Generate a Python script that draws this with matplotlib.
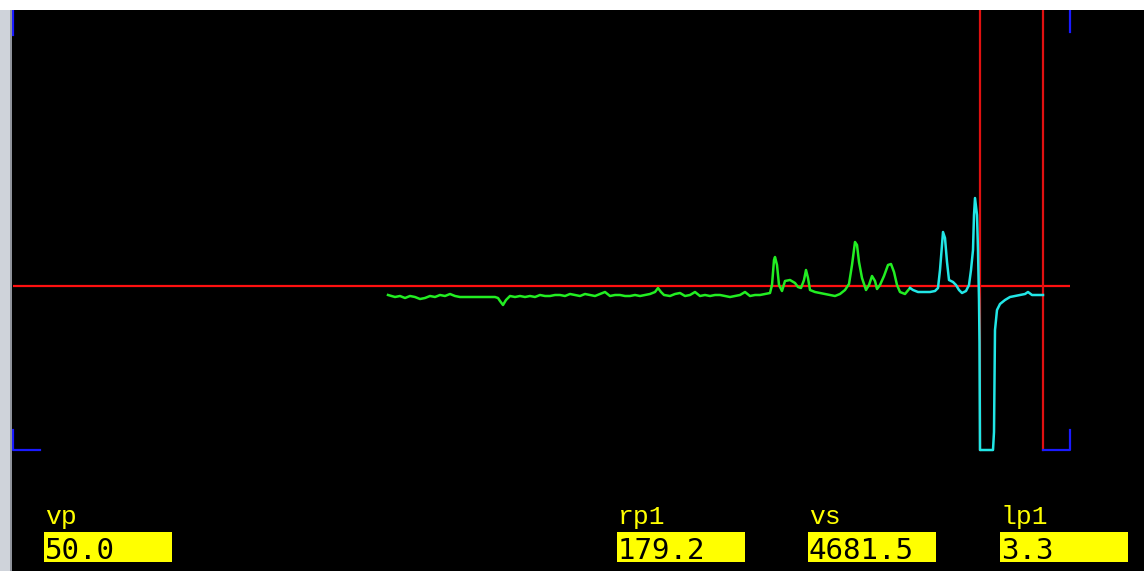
import numpy as np
import matplotlib
matplotlib.use("Agg")
import matplotlib.pyplot as plt
from matplotlib.patches import Rectangle

# trace samples (x = sample index, y = amplitude relative to reference level)
green_x = [375, 382, 387, 392, 397, 402, 407, 412, 417, 422, 427, 432, 437, 442, 447,
           457, 472, 482, 485, 487, 490, 493, 497, 502, 507, 512, 517, 522, 527, 532,
           537, 542, 547, 552, 557, 562, 567, 572, 577, 582, 587, 592, 597, 602, 607,
           612, 617, 622, 627, 632, 637, 642, 645, 648, 651, 657, 662, 667, 672, 677,
           682, 687, 692, 697, 702, 707, 712, 717, 722, 727, 732, 737, 742, 747, 752,
           757, 759, 761, 762, 764, 766, 769, 772, 777, 782, 785, 788, 791, 793, 795,
           797, 802, 807, 812, 817, 822, 827, 832, 836, 839, 842, 844, 846, 849, 853,
           856, 859, 862, 864, 867, 871, 875, 878, 881, 884, 887, 892, 897]
green_y = [-9, -11, -10, -12, -10, -11, -13, -12, -10, -11, -9, -10, -8, -10, -11,
           -11, -11, -11, -12, -15, -19, -14, -10, -11, -10, -11, -10, -11, -9, -10,
           -10, -9, -9, -10, -8, -9, -10, -8, -9, -10, -8, -6, -10, -9, -9,
           -10, -10, -9, -10, -9, -8, -6, -2, -6, -9, -10, -8, -7, -10, -9,
           -6, -10, -9, -10, -9, -9, -10, -11, -10, -9, -6, -10, -9, -9, -8,
           -7, 1, 26, 29, 21, 1, -5, 5, 6, 3, -1, -2, 6, 16, 8,
           -4, -6, -7, -8, -9, -10, -8, -4, 2, 21, 44, 41, 24, 8, -4,
           1, 10, 5, -3, 1, 10, 21, 22, 14, 1, -6, -8, -2]

cyan_x = [897, 900, 905, 912, 917, 922, 925, 927, 929, 930, 932, 934, 936, 940, 943,
          946, 949, 953, 956, 958, 960, 961, 962, 964, 965, 966, 966.5, 967, 980, 981,
          982, 984, 987, 992, 997, 1002, 1007, 1012, 1015, 1019, 1025, 1030]
cyan_y = [-2, -4, -6, -6, -6, -5, -2, 16, 41, 54, 48, 24, 6, 4, 1,
          -4, -7, -5, 1, 16, 36, 71, 88, 71, 36, -14, -57, -164, -164, -146,
          -44, -24, -18, -14, -11, -10, -9, -8, -6, -9, -9, -9]

cursors = [967, 1030]
ref_level = 0
x_range = (0, 1057)
y_range = (-164, 276)

# readout fields
field_names = ["vp", "rp1", "vs", "lp1"]
field_values = ["50.0", "179.2", "4681.5", "3.3"]
field_left = [44, 617, 808, 1000]

W, H = 1144, 571
fig = plt.figure(figsize=(W / 100, H / 100), dpi=100, facecolor="black")

# window chrome: white strip on top, grey scroll strip on the left
fig.patches.append(Rectangle((0, 1 - 10 / H), 1, 10 / H, transform=fig.transFigure,
                             facecolor="white", edgecolor="none", zorder=0))
fig.patches.append(Rectangle((0, 0), 12 / W, 1 - 10 / H, transform=fig.transFigure,
                             facecolor="#cfd3da", edgecolor="none", zorder=0))
fig.patches.append(Rectangle((10 / W, 0), 2 / W, 1 - 10 / H, transform=fig.transFigure,
                             facecolor="#8f939b", edgecolor="none", zorder=0))

ax = fig.add_axes([13 / W, 121 / H, 1057 / W, 440 / H])
ax.set_facecolor("black")
ax.set_xlim(*x_range)
ax.set_ylim(*y_range)
ax.axis("off")

ax.axhline(ref_level, color="#ff1010", lw=1.6, zorder=2)
for c in cursors:
    ax.axvline(c, color="#e01010", lw=1.6, zorder=2, clip_on=False)

ax.plot(green_x, green_y, color="#22ee22", lw=1.8, zorder=3)
ax.plot(cyan_x, cyan_y, color="#22e6e6", lw=1.8, zorder=4, clip_on=False)

# blue corner brackets
blue = "#1a1aff"
tr = ax.transAxes
fx, fy = 27 / 1057, 1 / 440
ax.plot([0, 0], [1, 1 - 25 * fy], color=blue, lw=1.6, transform=tr, clip_on=False)
ax.plot([0, 0, fx], [20 * fy, 0, 0], color=blue, lw=1.6, transform=tr, clip_on=False)
ax.plot([1, 1], [1, 1 - 22 * fy], color=blue, lw=1.6, transform=tr, clip_on=False)
ax.plot([1 - fx, 1, 1], [0, 0, 20 * fy], color=blue, lw=1.6, transform=tr, clip_on=False)

# readout boxes
for name, val, left in zip(field_names, field_values, field_left):
    fig.patches.append(Rectangle((left / W, 9 / H), 128 / W, 30 / H,
                                 transform=fig.transFigure, facecolor="#ffff00",
                                 edgecolor="none", zorder=1))
    fig.text((left + 1) / W, 47 / H, name, color="#ffff00", fontsize=19,
             family="Liberation Mono", ha="left", va="baseline")
    fig.text((left + 1) / W, 12 / H, val, color="black", fontsize=21,
             family="DejaVu Sans Mono", ha="left", va="baseline")

fig.savefig("out.png", dpi=100, facecolor="black")
